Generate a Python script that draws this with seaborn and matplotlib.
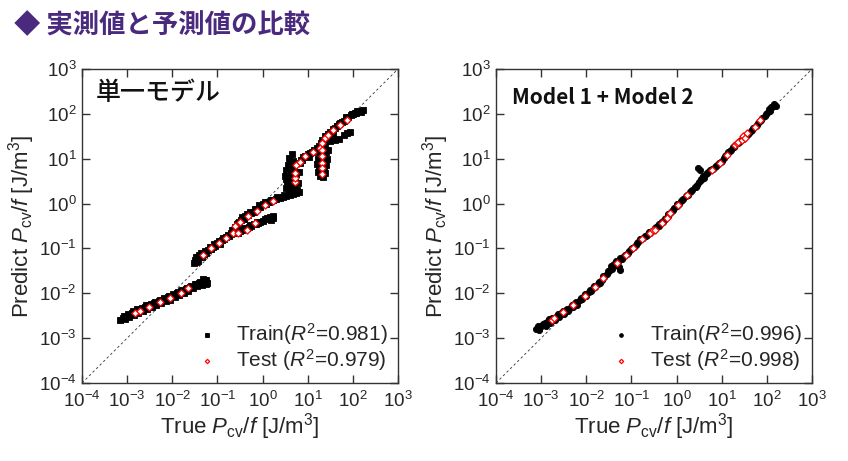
import numpy as np
import pandas as pd
import matplotlib
matplotlib.use("Agg")
import matplotlib.pyplot as plt
import seaborn as sns
from matplotlib.ticker import NullLocator

# ---------------- data (log10 of values) ----------------
# Left panel: single model
single_train_logx = [
    -3.16, -3.10, -3.05, -3.00, -2.95, -2.90, -2.85, -2.80, -2.75, -2.70, -2.65, -2.60, -2.55, -2.50,
    -2.45, -2.40, -2.35, -2.30, -2.25, -2.20, -2.15, -2.10, -2.05, -2.00, -1.95, -1.90, -1.85, -1.80,
    -1.75, -1.70, -1.65, -1.60, -1.55, -1.50, -1.45, -1.40, -1.35, -1.30, -1.25, -1.22,
    -3.08, -2.98, -2.88, -2.78, -2.68, -2.58, -2.48, -2.38, -2.28, -2.18, -2.08, -1.98, -1.88, -1.78,
    -1.68, -1.58, -1.48, -1.38, -1.28, -1.32, -1.26,
    -1.52, -1.50, -1.48, -1.45, -1.42, -1.40, -1.35, -1.30, -1.25, -1.20, -1.15, -1.10, -1.05, -1.00,
    -0.95, -0.90, -0.85, -0.80, -0.75, -0.70, -0.65, -0.60, -0.57, -0.52, -0.48, -0.42, -0.38, -0.32,
    -0.25, -0.20, -0.12, -0.05, 0.02, 0.08, 0.15, 0.22, 0.30, 0.38, 0.45, 0.52, 0.60, 0.68, 0.75, 0.80,
    -1.47, -1.37, -1.27, -1.17, -1.07, -0.97, -0.87, -0.77, -0.67, -0.55, -0.45, -0.35, -0.27, -0.17,
    -0.08, 0.05, 0.18, 0.33, 0.48, 0.63, 0.72,
    -0.70, -0.62, -0.55, -0.50, -0.45, -0.40, -0.35, -0.30, -0.25, -0.20, -0.15, -0.10, -0.05, 0.02,
    0.10, 0.16, 0.18, 0.22, 0.24, -0.58, -0.42, -0.28, -0.12, 0.06,
    0.52, 0.55, 0.52, 0.55, 0.52, 0.56, 0.60, 0.62, 0.63, 0.65, 0.68, 0.70, 0.72, 0.75, 0.78, 0.80,
    0.82, 0.85, 0.90, 0.95, 1.00, 1.05, 1.10, 1.15, 1.20, 1.25, 1.30, 0.58, 0.66, 0.50, 0.60, 0.68,
    0.76, 0.58, 0.70, 0.88, 1.02,
    1.22, 1.25, 1.22, 1.25, 1.28, 1.30, 1.32, 1.35, 1.38, 1.40, 1.42, 1.38, 1.45, 1.35, 1.27, 1.33,
    1.24, 1.29, 1.36, 1.41, 1.20,
    1.32, 1.38, 1.44, 1.50, 1.55, 1.60, 1.65, 1.70, 1.75, 1.80, 1.85, 1.90, 1.95, 2.00, 2.05, 2.10,
    2.15, 2.22, 1.40, 1.48, 1.56, 1.50, 1.60, 1.70, 1.80, 1.88, 1.94, 2.18, 1.64, 1.72, 1.84, 1.98,
    2.08,
]
single_train_logy = [
    -2.60, -2.55, -2.58, -2.50, -2.53, -2.45, -2.48, -2.41, -2.44, -2.36, -2.40, -2.31, -2.35, -2.27,
    -2.31, -2.22, -2.27, -2.18, -2.22, -2.14, -2.18, -2.09, -2.14, -2.05, -2.09, -2.00, -2.04, -1.95,
    -1.99, -1.90, -1.94, -1.86, -1.89, -1.80, -1.84, -1.77, -1.81, -1.74, -1.70, -1.76,
    -2.50, -2.47, -2.39, -2.36, -2.33, -2.27, -2.24, -2.20, -2.16, -2.11, -2.06, -2.02, -1.97, -1.93,
    -1.88, -1.83, -1.79, -1.74, -1.70, -1.68, -1.80,
    -1.33, -1.25, -1.30, -1.20, -1.27, -1.15, -1.20, -1.12, -1.10, -1.04, -1.02, -0.96, -0.95, -0.88,
    -0.90, -0.82, -0.80, -0.74, -0.72, -0.66, -0.62, -0.52, -0.46, -0.42, -0.36, -0.34, -0.28, -0.25,
    -0.22, -0.18, -0.13, -0.08, -0.02, 0.00, 0.03, 0.07, 0.10, 0.12, 0.15, 0.17, 0.19, 0.22, 0.24, 0.26,
    -1.18, -1.10, -1.05, -0.97, -0.90, -0.84, -0.76, -0.69, -0.60, -0.44, -0.30, -0.23, -0.18, -0.11,
    -0.04, 0.04, 0.08, 0.14, 0.20, 0.25, 0.30,
    -0.68, -0.64, -0.66, -0.62, -0.60, -0.57, -0.55, -0.52, -0.49, -0.45, -0.46, -0.43, -0.40, -0.38,
    -0.33, -0.30, -0.36, -0.27, -0.33, -0.60, -0.55, -0.47, -0.40, -0.35,
    0.35, 0.45, 0.55, 0.65, 0.75, 0.85, 0.92, 0.40, 0.60, 0.80, 0.95, 0.35, 0.50, 0.65, 0.45, 0.70,
    0.90, 0.98, 1.03, 1.07, 1.10, 1.12, 1.15, 1.20, 1.24, 1.28, 1.35, 1.02, 1.10, 0.62, 0.72, 0.50,
    0.30, 0.30, 0.85, 0.98, 1.04,
    0.70, 0.85, 1.00, 1.15, 0.62, 0.75, 0.95, 1.10, 0.68, 0.85, 1.00, 1.25, 1.20, 1.40, 0.90, 0.60,
    0.78, 1.30, 0.78, 1.15, 0.88,
    1.42, 1.50, 1.55, 1.60, 1.66, 1.68, 1.74, 1.78, 1.82, 1.85, 1.88, 1.93, 1.97, 2.00, 2.03, 2.06,
    2.07, 2.08, 1.40, 1.46, 1.52, 1.40, 1.42, 1.45, 1.52, 1.58, 1.60, 2.04, 1.74, 1.80, 1.92, 1.99,
    2.02,
]
single_test_logx = [
    -2.83, -2.72, -2.51, -2.27, -2.05, -1.81, -1.65,
    -1.33, -1.14, -0.97, -0.80, -0.65, -0.60, -0.50, -0.32, -0.13, 0.05, 0.24,
    -0.54, -0.35, -0.17,
    0.72, 0.72, 0.72, 0.75, 0.83, 0.94, 1.12, 1.27, 1.38, 1.46, 1.57, 1.71, 1.86,
    1.31, 1.31, 1.31, 1.31, 1.31, 1.31,
]
single_test_logy = [
    -2.43, -2.39, -2.30, -2.20, -2.11, -1.99, -1.89,
    -1.15, -1.00, -0.88, -0.77, -0.65, -0.50, -0.40, -0.28, -0.16, -0.03, 0.06,
    -0.65, -0.58, -0.44,
    0.49, 0.56, 0.68, 0.86, 0.93, 1.05, 1.16, 1.23, 1.46, 1.53, 1.64, 1.75, 1.86,
    1.35, 1.20, 1.05, 0.90, 0.79, 0.67,
]

# Right panel: Model 1 + Model 2
dual_train_logx = [
    -3.12, -3.08, -3.05, -3.00, -2.95, -2.90, -2.85, -2.80, -2.75, -2.70, -2.65, -2.60, -2.55, -2.50,
    -2.45, -2.40, -2.35, -2.30, -2.25, -2.20, -2.15, -2.10, -2.05, -2.00, -1.95, -1.90, -1.85, -1.80,
    -1.75, -1.70, -1.65, -1.60, -1.55, -1.50, -1.45, -1.42, -1.38, -1.35, -1.30, -1.25, -1.28, -1.25,
    -1.20, -1.15, -1.10, -1.05, -1.00, -0.95, -0.90, -0.85, -0.80, -0.75, -0.70, -0.65, -0.60, -0.55,
    -0.50, -0.45, -0.40, -0.35, -0.30, -0.25, -0.20, -0.15, -0.10, -0.05, 0.00, 0.05, 0.10, 0.15,
    0.20, 0.25, 0.30, 0.35, 0.40, 0.45, 0.50, 0.52, 0.55, 0.58, 0.60, 0.65, 0.70, 0.75, 0.80, 0.85,
    0.90, 0.95, 1.00, 1.05, 1.10, 1.15, 1.20, 1.25, 1.30, 1.35, 1.40, 1.45, 1.50, 1.55, 1.60, 1.65,
    1.70, 1.75, 1.80, 1.85, 1.90, 1.95, 2.00, 2.05, 2.10, 2.15, 2.20,
    -3.02, -2.92, -2.82, -2.72, -2.62, -2.52, -2.42, -2.32, -2.22, -2.12, -2.02, -1.92, -1.82, -1.72,
    -1.62, -1.52, -1.40, -1.32, -1.18, -1.08, -0.98, -0.88, -0.78, -0.68, -0.58, -0.48, -0.38, -0.28,
    -0.18, -0.08, 0.02, 0.12, 0.22, 0.32, 0.42, 0.55, 0.68, 0.78, 0.88, 0.98, 1.08, 1.18, 1.28, 1.38,
    1.48, 1.58, 1.68, 1.78, 1.88, 1.98, 2.08, 2.12, 0.48,
]
dual_train_logy = [
    -2.80, -2.74, -2.82, -2.72, -2.68, -2.72, -2.62, -2.66, -2.55, -2.60, -2.50, -2.52, -2.44, -2.46,
    -2.38, -2.40, -2.32, -2.30, -2.22, -2.25, -2.15, -2.13, -2.06, -2.05, -1.98, -1.96, -1.88, -1.86,
    -1.80, -1.77, -1.70, -1.64, -1.56, -1.50, -1.40, -1.45, -1.35, -1.28, -1.30, -1.48, -1.42, -1.22,
    -1.24, -1.15, -1.12, -1.05, -1.02, -0.96, -0.92, -0.86, -0.80, -0.76, -0.72, -0.70, -0.64, -0.62,
    -0.58, -0.52, -0.50, -0.44, -0.40, -0.34, -0.28, -0.22, -0.17, -0.10, -0.05, 0.00, 0.06, 0.10,
    0.16, 0.20, 0.26, 0.30, 0.36, 0.42, 0.48, 0.75, 0.55, 0.62, 0.58, 0.66, 0.70, 0.74, 0.78, 0.82,
    0.86, 0.90, 0.96, 1.02, 1.08, 1.14, 1.20, 1.26, 1.30, 1.35, 1.40, 1.43, 1.46, 1.52, 1.58, 1.62,
    1.68, 1.73, 1.80, 1.85, 1.90, 1.96, 2.03, 2.10, 2.15, 2.22, 2.18,
    -2.76, -2.66, -2.58, -2.54, -2.46, -2.40, -2.34, -2.26, -2.20, -2.10, -2.02, -1.93, -1.84, -1.74,
    -1.62, -1.50, -1.36, -1.38, -1.20, -1.10, -0.99, -0.89, -0.80, -0.72, -0.66, -0.55, -0.46, -0.37,
    -0.24, -0.14, -0.02, 0.08, 0.18, 0.28, 0.38, 0.52, 0.68, 0.76, 0.84, 0.93, 1.05, 1.17, 1.27, 1.38,
    1.44, 1.56, 1.65, 1.76, 1.87, 1.99, 2.06, 2.16, 0.80,
]
dual_test_logx = [
    -2.77, -2.72, -2.51, -2.29, -2.03, -1.81, -1.62, -1.33, -1.11, -0.96, -0.77, -0.59, -0.52, -0.48,
    -0.33, -0.22, -0.15, 0.04, 0.22, 0.78, 0.96, 1.11, 1.29, 1.33, 1.37, 1.45, 1.47, 1.52, 1.55, 1.74, 1.85,
]
dual_test_logy = [
    -2.60, -2.56, -2.41, -2.26, -2.06, -1.87, -1.67, -1.33, -1.15, -0.98, -0.79, -0.66, -0.60, -0.59,
    -0.44, -0.33, -0.22, -0.03, 0.19, 0.75, 0.90, 1.08, 1.31, 1.35, 1.38, 1.42, 1.50, 1.46, 1.57, 1.71, 1.86,
]

panel_titles = ["単一モデル", "Model 1 + Model 2"]
train_labels = ["Train($R^2$=0.981)", "Train($R^2$=0.996)"]
test_labels = ["Test ($R^2$=0.979)", "Test ($R^2$=0.998)"]
decade_ticks = [1e-4, 1e-3, 1e-2, 1e-1, 1e0, 1e1, 1e2, 1e3]

# ---------------- style ----------------
sns.set_theme(style="white")
plt.rcParams["font.family"] = ["Liberation Sans", "Noto Sans CJK JP", "DejaVu Sans"]
plt.rcParams["mathtext.fontset"] = "custom"
plt.rcParams["mathtext.rm"] = "Liberation Sans"
plt.rcParams["mathtext.it"] = "Liberation Sans:italic"
plt.rcParams["mathtext.bf"] = "Liberation Sans:bold"

TXT = "#262626"
fig = plt.figure(figsize=(8.48, 4.61), dpi=100)
ax1 = fig.add_axes([82 / 848, 78 / 461, 316 / 848, 314 / 461])
ax2 = fig.add_axes([496 / 848, 78 / 461, 316 / 848, 314 / 461])

panels = [
    (ax1, single_train_logx, single_train_logy, single_test_logx, single_test_logy, "s"),
    (ax2, dual_train_logx, dual_train_logy, dual_test_logx, dual_test_logy, "o"),
]

for i, (ax, trx, try_, tex, tey, mk) in enumerate(panels):
    tr = pd.DataFrame({"x": 10 ** np.array(trx), "y": 10 ** np.array(try_)})
    te = pd.DataFrame({"x": 10 ** np.array(tex), "y": 10 ** np.array(tey)})
    ax.set_xscale("log")
    ax.set_yscale("log")
    ax.plot([1e-4, 1e3], [1e-4, 1e3], ls=(0, (3, 3)), color="#333333", lw=0.6, zorder=1)
    sns.scatterplot(data=tr, x="x", y="y", ax=ax, marker=mk, s=20, color="black",
                    edgecolor="black", linewidth=0.6, label=train_labels[i], zorder=2)
    sns.scatterplot(data=te, x="x", y="y", ax=ax, marker="D", s=13, facecolor="white",
                    edgecolor="red", linewidth=0.9, label=test_labels[i], zorder=3)
    ax.set_xlim(1e-4, 1e3)
    ax.set_ylim(1e-4, 1e3)
    ax.set_xticks(decade_ticks)
    ax.set_yticks(decade_ticks)
    ax.xaxis.set_minor_locator(NullLocator())
    ax.yaxis.set_minor_locator(NullLocator())
    ax.tick_params(which="major", direction="in", top=True, right=True, bottom=True, left=True,
                   length=6, width=1, color="#333333", labelsize=13.5, labelcolor=TXT, pad=4)
    ax.tick_params(axis="x", pad=6)
    for sp in ax.spines.values():
        sp.set_color("#333333")
        sp.set_linewidth(1.0)
    ax.set_xlabel("True $P_{\\mathrm{cv}}$/$f$ [J/m$^3$]", fontsize=16, color=TXT, labelpad=0)
    ax.set_ylabel("Predict $P_{\\mathrm{cv}}$/$f$ [J/m$^3$]", fontsize=16, color=TXT, labelpad=1)
    leg = ax.legend(loc="lower right", frameon=False, fontsize=15, handletextpad=0.8,
                    borderaxespad=0.1, labelspacing=0.0, markerscale=0.6, handlelength=1.2)
    for t in leg.get_texts():
        t.set_color(TXT)

ax1.text(0.042, 0.924, panel_titles[0], transform=ax1.transAxes, fontsize=18,
         family=["Noto Sans CJK JP", "DejaVu Sans"], fontweight="medium",
         color="#111111", va="center", ha="left")
ax2.text(0.05, 0.908, panel_titles[1], transform=ax2.transAxes, fontsize=15, fontweight="bold",
         family=["Noto Sans CJK JP", "DejaVu Sans"], color="#111111", va="center", ha="left")

fig.text(0.017, 0.945, "◆ 実測値と予測値の比較", fontsize=19, fontweight="bold",
         family=["Noto Sans CJK JP", "DejaVu Sans"], color="#4a2a7e", va="center", ha="left")

fig.savefig("out.png", dpi=100)
